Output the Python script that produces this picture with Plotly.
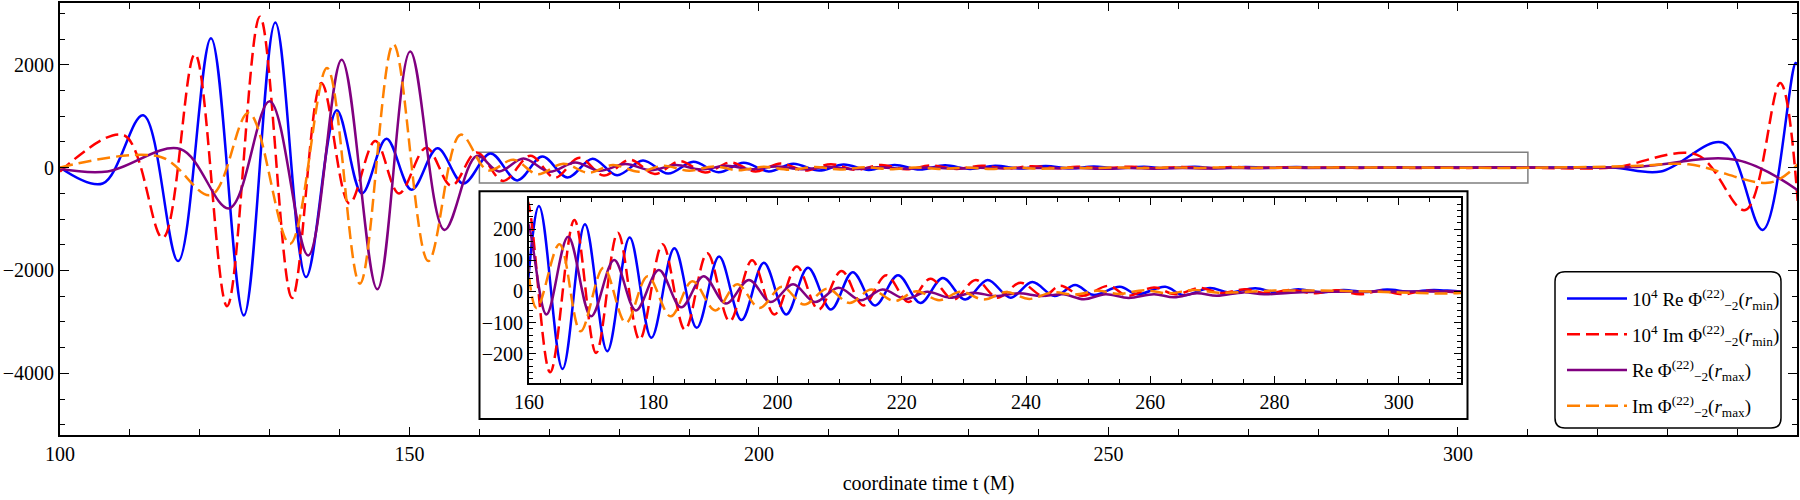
import plotly.graph_objects as go

# ---------------- data ----------------
t_re_min = [100, 106.1, 111.9, 116.9, 121.6, 126.3, 130.8, 135.2, 139.6, 143.2, 146.7, 150.3, 154.0, 157.7,
            161.6, 165.4, 169.0, 172.6, 176.2, 179.7, 183.4, 187.0, 190.6, 194.2, 197.8, 201.4, 204.9, 208.6,
            212.1, 215.7, 219.4, 223.0, 226.6, 230.2, 233.8, 237.5, 241.0, 244.6, 247.9, 250.8, 255.1, 257.9,
            262.4, 265.3, 269.6, 272.6, 276.9, 280.3, 283.8, 287.6, 291.1, 294.9, 298.1, 301.9, 305.6, 310,
            322, 329.0, 337.9, 343.6, 348.3, 348.6]
v_re_min = [0, -310, 1019, -1819, 2515, -2877, 2819, -2129, 1116, -503, 561, -432, 374, -310,
            275, -249, 216, -192, 173, -149, 139, -117, 112, -92, 92, -74, 76, -58,
            62, -45, 52, -37, 43, -26, 37, -20, 30, -15, 21, -11, 15, -9,
            15, -12, 11, -3, 10, -3, 7, -3, 5, -2, 6, -1, 5, 0,
            0, -77, 484, -1212, 2033, 2000]

t_im_min = [100, 109.1, 114.7, 119.3, 123.9, 128.6, 133.2, 137.4, 141.4, 145.1, 148.5, 152.4, 156.0, 159.6,
            163.4, 167.3, 170.8, 174.3, 177.8, 181.5, 185.1, 188.7, 192.3, 195.9, 199.5, 203.1, 206.6, 210.3,
            213.8, 217.5, 221.1, 224.6, 228.3, 231.9, 235.4, 239.1, 242.8, 245.5, 249.0, 253.3, 256.3, 260.6,
            264.0, 268.0, 271.3, 275.3, 278.8, 282.6, 286.3, 290.0, 293.8, 297.0, 300.8, 304.0, 310,
            322, 334.2, 341.1, 346.1, 348.6]
v_im_min = [-80, 632, -1367, 2206, -2696, 2935, -2535, 1645, -697, 516, -503, 387, -355, 295,
            -260, 230, -198, 189, -155, 152, -123, 123, -96, 100, -74, 80, -58, 66,
            -45, 52, -34, 41, -26, 37, -20, 28, -15, 18, -14, 18, -14, 13,
            -9, 11, -5, 7, -6, 5, -6, 4, -9, 2, -9, 2, -3,
            0, 246, -826, 1646, -650]

t_re_max = [100, 106.8, 117.2, 124.2, 130.0, 135.5, 140.3, 145.4, 150.1, 155.0, 159.6,
            162.8, 166.3, 170.0, 173.7, 177.2, 180.9, 184.5, 188.1, 191.7, 195.4, 198.9, 202.5, 206.0,
            209.8, 213.4, 216.9, 220.6, 224.1, 227.7, 231.4, 235.1, 238.8, 242.5, 246.0, 249.3, 252.8,
            256.5, 260.6, 263.8, 267.5, 270.7, 275.0, 278.3, 285, 300, 310, 325, 339.9, 348.6]
v_re_max = [-30, -77, 361, -793, 1290, -1709, 2096, -2367, 2258, -1213, 226,
            -74, 176, -80, 101, -61, 69, -51, 49, -39, 37, -34, 23, -34,
            12, -28, 6, -24, -1, -20, -4, -15, -6, -15, -9, -25, -9,
            -21, -9, -19, -6, -14, -3, -9, -2, 0, 0, 10, 149, -439]

t_im_max = [100, 114.4, 121.6, 127.0, 132.9, 138.2, 142.9, 147.7, 152.7, 157.3, 161.2,
            164.9, 168.3, 172.0, 175.6, 179.1, 182.8, 186.3, 190.0, 193.5, 197.1, 200.7, 204.3, 208.0,
            211.6, 215.1, 218.8, 222.4, 226.0, 229.5, 233.2, 236.8, 240.5, 244.2, 247.8, 251.5, 255,
            259, 263, 267, 271, 280, 290, 300, 310, 325, 333, 344.7, 348.6]
v_im_max = [0, 206, -535, 1064, -1484, 1935, -2258, 2400, -1819, 640, -53,
            152, -128, 76, -101, 49, -80, 33, -61, 23, -53, 15, -42, 9,
            -37, 6, -31, 1, -28, -1, -26, -2, -24, -3, -10, 2, -8,
            4, -6, 5, -4, 3, 2, -3, -5, 30, 64, -290, 64]

series_names = ["10<sup>4</sup> Re Φ<sup>(22)</sup><sub>−2</sub>(<i>r</i><sub>min</sub>)",
                "10<sup>4</sup> Im Φ<sup>(22)</sup><sub>−2</sub>(<i>r</i><sub>min</sub>)",
                "Re Φ<sup>(22)</sup><sub>−2</sub>(<i>r</i><sub>max</sub>)",
                "Im Φ<sup>(22)</sup><sub>−2</sub>(<i>r</i><sub>max</sub>)"]
x_title = "coordinate time t (M)"
inset_yticks = [-200, -100, 0, 100, 200]

# ---------------- styling ----------------
FONT = "Liberation Serif, Times New Roman, serif"
series = [
    (t_re_min, v_re_min, "#0000ff", "solid"),
    (t_im_min, v_im_min, "#ff0000", "13px,6px"),
    (t_re_max, v_re_max, "#800080", "solid"),
    (t_im_max, v_im_max, "#ff8000", "13px,6px"),
]

fig = go.Figure()
for i, ((t, v, col, dash), name) in enumerate(zip(series, series_names)):
    fig.add_trace(go.Scatter(x=t, y=v, mode="lines", name=name, legendgroup=f"g{i}",
                             line=dict(color=col, width=2.5, dash=dash, shape="spline", smoothing=1.0),
                             xaxis="x", yaxis="y"))
for i, ((t, v, col, dash), name) in enumerate(zip(series, series_names)):
    fig.add_trace(go.Scatter(x=t, y=v, mode="lines", name=name, showlegend=False, legendgroup=f"g{i}",
                             line=dict(color=col, width=2.5, dash=dash, shape="spline", smoothing=1.0),
                             xaxis="x2", yaxis="y2"))

W, H = 1800, 500
L, R, T, B = 60, 3, 1, 65
pw, ph = W - L - R, H - T - B


def px2paper_x(px):
    return (px - L) / pw


def px2paper_y(py):
    return (H - B - py) / ph


# rounded legend box
x0, x1 = px2paper_x(1555), px2paper_x(1781)
y0, y1 = px2paper_y(428), px2paper_y(271)
rx, ry = 10 / pw, 10 / ph
legend_path = (f"M{x0+rx},{y1} L{x1-rx},{y1} Q{x1},{y1} {x1},{y1-ry} L{x1},{y0+ry} "
               f"Q{x1},{y0} {x1-rx},{y0} L{x0+rx},{y0} Q{x0},{y0} {x0},{y0+ry} "
               f"L{x0},{y1-ry} Q{x0},{y1} {x0+rx},{y1} Z")

shapes = [
    dict(type="rect", xref="x", yref="y", x0=160, x1=310, y0=-300, y1=300,
         line=dict(color="#7f7f7f", width=1.5), layer="below"),
    dict(type="rect", xref="paper", yref="paper",
         x0=px2paper_x(479.5), x1=px2paper_x(1467.5), y0=px2paper_y(419), y1=px2paper_y(190),
         line=dict(color="black", width=2), fillcolor="white", layer="below"),
    dict(type="path", xref="paper", yref="paper", path=legend_path,
         line=dict(color="black", width=1.5), fillcolor="white", layer="above"),
]

TICKFONT = dict(family=FONT, size=20, color="black")
axis_common = dict(showline=True, linecolor="black", mirror="allticks", ticks="inside",
                   showgrid=False, zeroline=False, tickcolor="black", tickfont=TICKFONT)

fig.update_layout(
    width=W, height=H,
    margin=dict(l=L, r=R, t=T, b=B),
    paper_bgcolor="white", plot_bgcolor="white",
    font=dict(family=FONT, size=20, color="black"),
    shapes=shapes,
    xaxis=dict(**axis_common, range=[100, 348.5], tick0=100, dtick=50, ticklen=8, linewidth=2,
               minor=dict(dtick=10, tick0=100, ticklen=6, ticks="inside", tickcolor="black"),
               domain=[0, 1],
               title=dict(text=x_title, font=dict(family=FONT, size=20), standoff=12)),
    yaxis=dict(**axis_common, range=[-5200, 3200], tick0=0, dtick=2000, ticklen=9, linewidth=2,
               minor=dict(dtick=500, tick0=0, ticklen=5, ticks="inside", tickcolor="black"),
               domain=[0, 1]),
    xaxis2=dict(showline=True, linecolor="black", mirror="allticks", ticks="inside",
                showgrid=False, zeroline=False, tickcolor="black", linewidth=2, tickfont=TICKFONT,
                range=[160, 310], tick0=160, dtick=20, ticklen=7,
                minor=dict(dtick=5, tick0=160, ticklen=4, ticks="inside", tickcolor="black"),
                domain=[px2paper_x(529), px2paper_x(1461)], anchor="y2"),
    yaxis2=dict(showline=True, linecolor="black", mirror="allticks", ticks="inside",
                showgrid=False, zeroline=False, tickcolor="black", linewidth=2, tickfont=TICKFONT,
                range=[-295, 300], tickmode="array", tickvals=inset_yticks, ticklen=7,
                minor=dict(dtick=20, tick0=0, ticklen=4, ticks="inside", tickcolor="black"),
                domain=[px2paper_y(383), px2paper_y(197)], anchor="x2"),
    legend=dict(x=px2paper_x(1562), y=px2paper_y(279), xanchor="left", yanchor="top",
                bgcolor="rgba(0,0,0,0)", borderwidth=0, itemwidth=60,
                font=dict(family=FONT, size=19, color="black"), tracegroupgap=8),
    showlegend=True,
)

fig.write_html("out.html")
